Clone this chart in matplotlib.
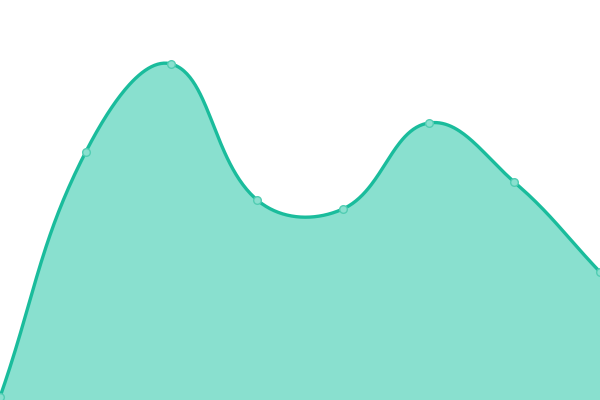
import numpy as np
import matplotlib
matplotlib.use("Agg")
import matplotlib.pyplot as plt

# data (x index, value with 0 at the bottom edge)
labels = ["1", "2", "3", "4", "5", "6", "7", "8"]
values = [3, 248, 336, 200, 191, 277, 218, 128]

line_color = "#1abc9c"
fill_color = "#89e0cf"
marker_edge = "#52cdb3"


def spline_path(xs, ys, tension=0.4, steps=60):
    # cubic bezier through the points, control points the way Chart.js builds them
    n = len(xs)
    pts = np.column_stack([xs, ys]).astype(float)
    c_prev = pts.copy()
    c_next = pts.copy()
    for i in range(n):
        prev = pts[max(i - 1, 0)]
        cur = pts[i]
        nxt = pts[min(i + 1, n - 1)]
        d01 = np.hypot(*(cur - prev))
        d12 = np.hypot(*(nxt - cur))
        tot = d01 + d12
        s01 = d01 / tot if tot else 0
        s12 = d12 / tot if tot else 0
        c_prev[i] = cur - tension * s01 * (nxt - prev)
        c_next[i] = cur + tension * s12 * (nxt - prev)
    out = []
    t = np.linspace(0, 1, steps)[:, None]
    for i in range(n - 1):
        p0, p1, p2, p3 = pts[i], c_next[i], c_prev[i + 1], pts[i + 1]
        seg = ((1 - t) ** 3) * p0 + 3 * ((1 - t) ** 2) * t * p1 + 3 * (1 - t) * t ** 2 * p2 + t ** 3 * p3
        out.append(seg if i == 0 else seg[1:])
    out = np.vstack(out)
    return out[:, 0], out[:, 1]


fig = plt.figure(figsize=(6, 4), dpi=100)
ax = fig.add_axes([0, 0, 1, 1])

# pixel scale so the chart.js style control points come out right
x = np.arange(len(values)) * (600 / (len(values) - 1))
sx, sy = spline_path(x, np.array(values, float))

ax.fill_between(sx, sy, 0, color=fill_color, lw=0)
ax.plot(sx, sy, color=line_color, lw=2.4, solid_capstyle="round")
ax.plot(x, values, "o", ms=5.5, mfc=fill_color, mec=marker_edge, mew=1, clip_on=True)

ax.set_xlim(0, 600)
ax.set_ylim(0, 400)
ax.axis("off")

fig.savefig("out.png", dpi=100)
